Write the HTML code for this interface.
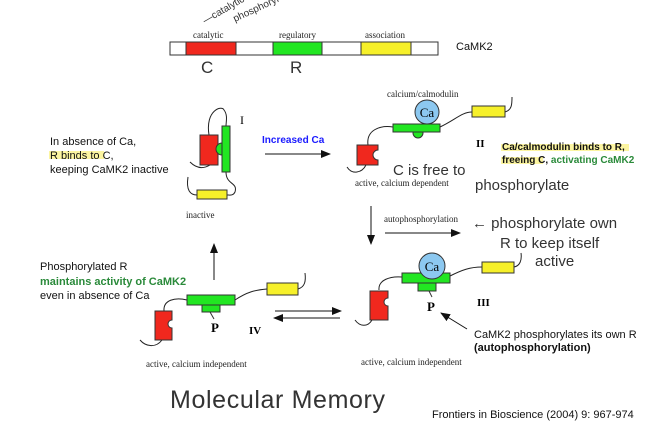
<!DOCTYPE html>
<html><head><meta charset="utf-8"><style>
html,body{margin:0;padding:0;background:#fff;}
svg{display:block;}
.s{font-family:"Liberation Serif",serif;font-size:9px;fill:#222;}
.a{font-family:"Liberation Sans",sans-serif;font-size:11px;fill:#111;}
.h{font-family:"Liberation Sans",sans-serif;fill:#333;}
</style></head><body>
<svg width="666" height="424" viewBox="0 0 666 424" xmlns="http://www.w3.org/2000/svg">
<defs><marker id="ar" markerWidth="10" markerHeight="8" refX="9" refY="4" orient="auto" markerUnits="userSpaceOnUse"><path d="M0,0 L10,4 L0,8 Z" fill="#111"/></marker></defs>
<!-- top bar -->
<text class="h" x="205" y="24" font-size="10" transform="rotate(-30 205 24)">—catalytic &amp;</text>
<text class="h" x="235" y="22" font-size="10" transform="rotate(-25 235 22)">phosphoryl</text>
<rect x="170" y="42" width="268" height="13" fill="#fff" stroke="#333"/>
<rect x="186" y="42" width="50" height="13" fill="#f0281e" stroke="#333"/>
<rect x="273" y="42" width="49" height="13" fill="#22e622" stroke="#333"/>
<rect x="361" y="42" width="50" height="13" fill="#f6f02a" stroke="#333"/>
<text class="s" x="193" y="38">catalytic</text>
<text class="s" x="279" y="38">regulatory</text>
<text class="s" x="365" y="38">association</text>
<text class="a" x="456" y="50" font-size="12">CaMK2</text>
<text class="h" x="201" y="73" font-size="17">C</text>
<text class="h" x="290" y="73" font-size="17">R</text>
<!-- left text 1 -->
<rect x="49" y="151" width="55" height="8" fill="#fbf38a" opacity="0.8"/>
<text class="a" x="50" y="145">In absence of Ca,</text>
<text class="a" x="50" y="159">R binds to C,</text>
<text class="a" x="50" y="173">keeping CaMK2 inactive</text>
<!-- stage I -->
<path d="M209,135 C205,110 222,105 224,110 C228,115 226,122 226,126" fill="none" stroke="#222"/>
<path d="M190,162 C198,170 205,168 210,165" fill="none" stroke="#222"/>
<path d="M226,172 C226,185 238,182 235,192 C233,196 230,195 227,195" fill="none" stroke="#222"/>
<path d="M188,177 C186,190 190,195 197,195" fill="none" stroke="#222"/>
<rect x="200" y="135" width="18" height="30" fill="#f0281e" stroke="#333"/>
<path d="M222,143 A6,6 0 0 0 222,155 Z" fill="#22e622" stroke="#333"/>
<rect x="222" y="126" width="8" height="46" fill="#22e622" stroke="#333"/>
<rect x="197" y="190" width="30" height="9" fill="#f6f02a" stroke="#333"/>
<text x="240" y="124" font-family="Liberation Serif,serif" font-size="12">I</text>
<text class="s" x="186" y="218">inactive</text>
<!-- increased Ca -->
<text x="262" y="143" font-family="Liberation Sans,sans-serif" font-size="10" font-weight="bold" fill="#1a1aff">Increased Ca</text>
<line x1="265" y1="154" x2="330" y2="154" stroke="#111" marker-end="url(#ar)"/>
<!-- stage II -->
<text class="s" x="387" y="97">calcium/calmodulin</text>
<path d="M368,145 C366,130 380,125 393,127" fill="none" stroke="#222"/>
<path d="M440,127 C455,120 462,112 472,112" fill="none" stroke="#222"/>
<path d="M505,112 C512,110 512,104 512,97" fill="none" stroke="#222"/>
<path d="M347,167 C352,175 362,173 366,165" fill="none" stroke="#222"/>
<path d="M357,145 H378 V150 A5,5 0 0 0 378,160 V165 H357 Z" fill="#f0281e" stroke="#333"/>
<circle cx="418" cy="133" r="5" fill="#22e622" stroke="#333"/>
<rect x="393" y="124" width="47" height="8" fill="#22e622" stroke="#333"/>
<circle cx="427" cy="112" r="12" fill="#8cc8f0" stroke="#333"/>
<text x="427" y="117" text-anchor="middle" font-family="Liberation Serif,serif" font-size="13">Ca</text>
<rect x="472" y="106" width="33" height="11" fill="#f6f02a" stroke="#333"/>
<text x="476" y="147" font-family="Liberation Serif,serif" font-size="11" font-weight="bold">II</text>
<text class="s" x="355" y="186">active, calcium dependent</text>
<rect x="501" y="144" width="128" height="7" fill="#fbf38a" opacity="0.8"/>
<rect x="501" y="157" width="42" height="7" fill="#fbf38a" opacity="0.8"/>
<text x="502" y="150" font-family="Liberation Sans,sans-serif" font-size="10" font-weight="bold" fill="#111">Ca/calmodulin binds to R,</text>
<text x="502" y="163" font-family="Liberation Sans,sans-serif" font-size="10" font-weight="bold" fill="#111">freeing C, <tspan fill="#2a8a3a">activating CaMK2</tspan></text>
<text class="h" x="393" y="175" font-size="15">C is free to</text>
<text class="h" x="475" y="190" font-size="15">phosphorylate</text>
<!-- autophos -->
<line x1="371" y1="206" x2="371" y2="244" stroke="#111" marker-end="url(#ar)"/>
<text class="s" x="384" y="222">autophosphorylation</text>
<line x1="385" y1="233" x2="460" y2="233" stroke="#111" marker-end="url(#ar)"/>
<text class="h" x="472" y="228" font-size="15">← phosphorylate own</text>
<text class="h" x="500" y="248" font-size="15">R to keep itself</text>
<text class="h" x="535" y="266" font-size="15">active</text>
<!-- stage III -->
<path d="M379,290 C378,280 390,276 402,277" fill="none" stroke="#222"/>
<path d="M450,276 C462,270 470,267 482,267" fill="none" stroke="#222"/>
<path d="M514,267 C520,266 522,260 521,253" fill="none" stroke="#222"/>
<path d="M355,320 C360,327 368,327 372,320" fill="none" stroke="#222"/>
<path d="M370,291 H388 V298 A4,4 0 0 0 388,306 V320 H370 Z" fill="#f0281e" stroke="#333"/>
<rect x="418" y="283" width="18" height="8" fill="#22e622" stroke="#333"/>
<rect x="402" y="273" width="48" height="10" fill="#22e622" stroke="#333"/>
<circle cx="432" cy="266" r="13" fill="#8cc8f0" stroke="#333"/>
<text x="432" y="271" text-anchor="middle" font-family="Liberation Serif,serif" font-size="13">Ca</text>
<line x1="429" y1="291" x2="432" y2="297" stroke="#333"/>
<text x="427" y="311" font-family="Liberation Serif,serif" font-size="13" font-weight="bold">P</text>
<rect x="482" y="262" width="32" height="11" fill="#f6f02a" stroke="#333"/>
<text x="477" y="306" font-family="Liberation Serif,serif" font-size="11" font-weight="bold">III</text>
<line x1="467" y1="329" x2="441" y2="313" stroke="#111" marker-end="url(#ar)"/>
<text class="a" x="474" y="338" font-size="10">CaMK2 phosphorylates its own R</text>
<text class="a" x="474" y="351" font-size="10" font-weight="bold">(autophosphorylation)</text>
<text class="s" x="361" y="365">active, calcium independent</text>
<!-- left text 2 -->
<text class="a" x="40" y="270">Phosphorylated R</text>
<text class="a" x="40" y="285" font-weight="bold" style="fill:#2a8a3a">maintains activity of CaMK2</text>
<text class="a" x="40" y="299">even in absence of Ca</text>
<!-- stage IV -->
<line x1="214" y1="280" x2="214" y2="244" stroke="#111" marker-end="url(#ar)"/>
<path d="M164,311 C163,300 175,297 187,300" fill="none" stroke="#222"/>
<path d="M235,300 C247,292 255,290 267,289" fill="none" stroke="#222"/>
<path d="M298,289 C305,287 306,281 305,273" fill="none" stroke="#222"/>
<path d="M140,340 C146,347 156,348 162,340" fill="none" stroke="#222"/>
<path d="M155,311 H172 V320 A4,4 0 0 0 172,328 V340 H155 Z" fill="#f0281e" stroke="#333"/>
<rect x="202" y="305" width="18" height="7" fill="#22e622" stroke="#333"/>
<rect x="187" y="295" width="48" height="10" fill="#22e622" stroke="#333"/>
<line x1="210" y1="312" x2="214" y2="319" stroke="#333"/>
<text x="211" y="332" font-family="Liberation Serif,serif" font-size="13" font-weight="bold">P</text>
<rect x="267" y="283" width="31" height="12" fill="#f6f02a" stroke="#333"/>
<text x="249" y="334" font-family="Liberation Serif,serif" font-size="11" font-weight="bold">IV</text>
<text class="s" x="146" y="367">active, calcium independent</text>
<line x1="275" y1="311" x2="341" y2="311" stroke="#111" marker-end="url(#ar)"/>
<line x1="340" y1="318" x2="274" y2="318" stroke="#111" marker-end="url(#ar)"/>
<!-- bottom -->
<text class="h" x="170" y="408" font-size="25" textLength="215">Molecular Memory</text>
<text class="a" x="432" y="418" font-size="11">Frontiers in Bioscience (2004)  9: 967-974</text>
</svg>
</body></html>
